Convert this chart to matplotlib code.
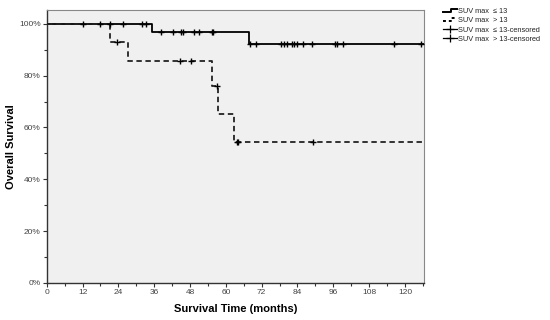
import matplotlib
matplotlib.use("Agg")
import matplotlib.pyplot as plt
import numpy as np
from matplotlib.lines import Line2D
from matplotlib.legend_handler import HandlerBase
from matplotlib.ticker import MultipleLocator, FuncFormatter

plt.rcParams["font.family"] = ["Liberation Sans", "DejaVu Sans"]

# ---- data ----
low_event_times = [0, 35.2, 67.8]
low_survival = [100, 96.8, 92.2]
low_censor_times = [12, 18, 21.3, 25.7, 32, 33.3, 38.2, 42.4, 44.9, 45.5, 49.4,
                    51.1, 55.3, 55.8, 68.1, 70, 78.5, 79.5, 80.6, 82, 82.8, 83.9,
                    85.9, 88.9, 96.5, 97.3, 99.4, 116.4, 125.3]

high_event_times = [0, 21.2, 27.3, 55.5, 57.5, 62.7]
high_survival = [100, 92.9, 85.6, 76.0, 65.2, 54.3]
high_censor_times = [23.6, 44.6, 48.3, 57.2, 63.6, 64.2, 89.3]

x_end = 126.4
legend_labels = ["SUV max  \u2264 13", "SUV max  > 13",
                 "SUV max  \u2264 13-censored", "SUV max  > 13-censored"]
x_ticks = list(range(0, 121, 12))


def step_value(times, surv, t):
    idx = np.searchsorted(times, t, side="right") - 1
    return surv[idx]


fig = plt.figure(figsize=(5.5, 3.2), dpi=100)
ax = fig.add_axes([0.085, 0.116, 0.686, 0.853])
ax.set_facecolor("#f0f0f0")

# step curves
lx = low_event_times + [x_end]
ly = low_survival + [low_survival[-1]]
ax.step(lx, ly, where="post", color="black", lw=1.3, zorder=3)

hx = high_event_times + [x_end]
hy = high_survival + [high_survival[-1]]
ax.step(hx, hy, where="post", color="#222222", lw=1.3, ls=(0, (3, 2)), zorder=3)

# censor marks
ax.plot(low_censor_times, [step_value(low_event_times, low_survival, t) for t in low_censor_times],
        ls="none", marker="+", ms=5, mew=1.0, color="black", zorder=4)
ax.plot(high_censor_times, [step_value(high_event_times, high_survival, t) for t in high_censor_times],
        ls="none", marker="+", ms=5, mew=1.0, color="black", zorder=4)

ax.set_xlim(0, x_end)
ax.set_ylim(0, 105.4)
ax.set_xticks(x_ticks)
ax.xaxis.set_minor_locator(MultipleLocator(6))
ax.yaxis.set_major_locator(MultipleLocator(20))
ax.yaxis.set_minor_locator(MultipleLocator(10))
ax.yaxis.set_major_formatter(FuncFormatter(lambda v, p: f"{int(v)}%"))
ax.tick_params(axis="both", which="major", labelsize=6, length=3, width=0.8,
               colors="#333333", labelcolor="#444444", pad=1.5)
ax.tick_params(axis="both", which="minor", length=2, width=0.8, colors="#333333")

for side in ["left", "bottom"]:
    ax.spines[side].set_color("#333333")
    ax.spines[side].set_linewidth(1.0)
for side in ["top", "right"]:
    ax.spines[side].set_color("#888888")
    ax.spines[side].set_linewidth(0.8)

ax.set_xlabel("Survival Time (months)", fontsize=8, fontweight="bold", labelpad=6)
ax.set_ylabel("Overall Survival", fontsize=8, fontweight="bold", labelpad=2)


class StepHandler(HandlerBase):
    def __init__(self, ls):
        super().__init__()
        self.ls = ls

    def create_artists(self, legend, orig_handle, xdescent, ydescent, width,
                       height, fontsize, trans):
        xs = np.array([0, 0.55, 0.55, 1.0]) * width - xdescent
        ys = np.array([0.25, 0.25, 0.8, 0.8]) * height - ydescent
        ln = Line2D(xs, ys, color="black", lw=1.4, ls=self.ls, transform=trans)
        return [ln]


h1 = Line2D([], [], color="black")
h2 = Line2D([], [], color="black", ls="--")
h3 = Line2D([], [], color="black", lw=0.9, marker="+", ms=6, mew=0.9)
h4 = Line2D([], [], color="black", lw=0.9, marker="+", ms=6, mew=0.9)

leg = fig.legend([h1, h2, h3, h4], legend_labels,
                 loc="upper left", bbox_to_anchor=(0.8, 0.985),
                 frameon=False, fontsize=5.3, handlelength=1.9, handletextpad=0.2,
                 labelspacing=0.3, borderaxespad=0,
                 handler_map={h1: StepHandler("-"), h2: StepHandler((0, (1.5, 1.5)))})
for t in leg.get_texts():
    t.set_color("#222222")

fig.savefig("out.png", dpi=100, facecolor="white")
